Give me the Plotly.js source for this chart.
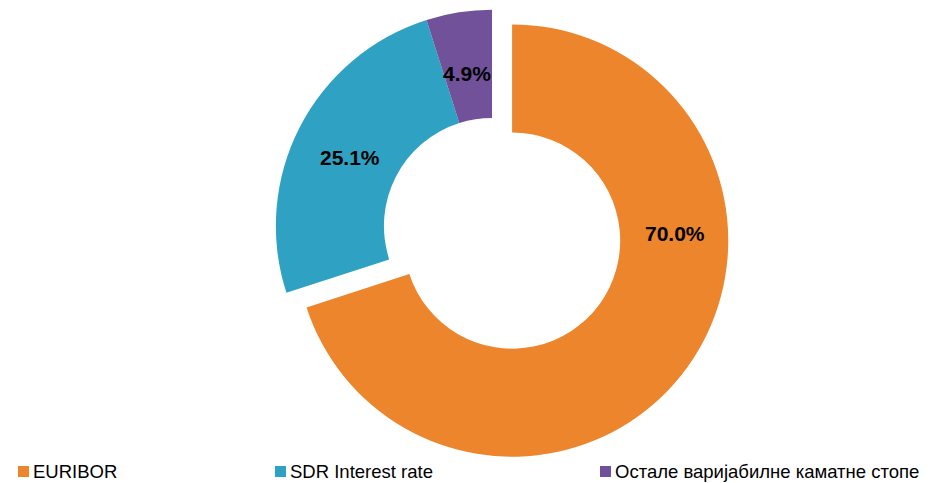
<!DOCTYPE html>
<html>
<head>
<meta charset="utf-8">
<script src="https://cdn.plot.ly/plotly-3.0.1.min.js"></script>
<style>
  html, body { margin: 0; padding: 0; background: #ffffff; overflow: hidden; width: 937px; height: 483px; }
  #chart { position: absolute; left: 0; top: -30px; width: 937px; height: 520px; }
</style>
</head>
<body>
<div id="chart"></div>
<script>
// ---- data ----
const categories = ['EURIBOR', 'SDR Interest rate', 'Остале варијабилне каматне стопе'];
const shares = [70.0, 25.1, 4.9];
const sliceColors = ['#EC852B', '#2FA2C3', '#71529A'];
const pulls = [0.115, 0, 0];

const labelText = shares.map(v => v.toFixed(1) + '%');

const H = 520, W = 937, OFF = 30;   // div is taller than the window and shifted up
const py = y => 1 - (y + OFF) / H;   // window px -> paper y
const px = x => x / W;

// label anchor points (window px) as placed in the original
const labelPos = [[675, 233], [350, 157], [467, 74]];
const legendX = [18, 275, 600];

const annotations = [];
labelText.forEach((t, i) => {
  annotations.push({
    x: px(labelPos[i][0]), y: py(labelPos[i][1]), xref: 'paper', yref: 'paper',
    text: t, showarrow: false, xanchor: 'center', yanchor: 'middle',
    font: { family: 'Liberation Sans, Arial, sans-serif', size: 21, color: '#000000', weight: 'bold' }
  });
});
const shapes = [];
categories.forEach((c, i) => {
  shapes.push({
    type: 'rect', xref: 'paper', yref: 'paper',
    x0: px(legendX[i]), x1: px(legendX[i] + 11), y0: py(477), y1: py(466),
    fillcolor: sliceColors[i], line: { width: 0 }
  });
  annotations.push({
    x: px(legendX[i] + 14), y: py(471), xref: 'paper', yref: 'paper',
    text: c, showarrow: false, xanchor: 'left', yanchor: 'middle', borderpad: 0,
    font: { family: 'Liberation Sans, Arial, sans-serif', size: 18.5, color: '#000000' }
  });
});

const trace = {
  type: 'pie',
  labels: categories,
  values: shares,
  textinfo: 'none',
  hole: 0.5,
  sort: false,
  direction: 'clockwise',
  rotation: 0,
  pull: pulls,
  marker: { colors: sliceColors, line: { width: 0 } },
  domain: { x: [px(492 - 241), px(492 + 241)], y: [py(226 + 241), py(226 - 241)] },
  showlegend: false,
  hoverinfo: 'label+percent'
};

Plotly.newPlot('chart', [trace], {
  width: W, height: H,
  margin: { l: 0, r: 0, t: 0, b: 0 },
  paper_bgcolor: '#ffffff',
  plot_bgcolor: '#ffffff',
  showlegend: false,
  annotations: annotations,
  shapes: shapes
}, { displayModeBar: false, staticPlot: true });
</script>
</body>
</html>
